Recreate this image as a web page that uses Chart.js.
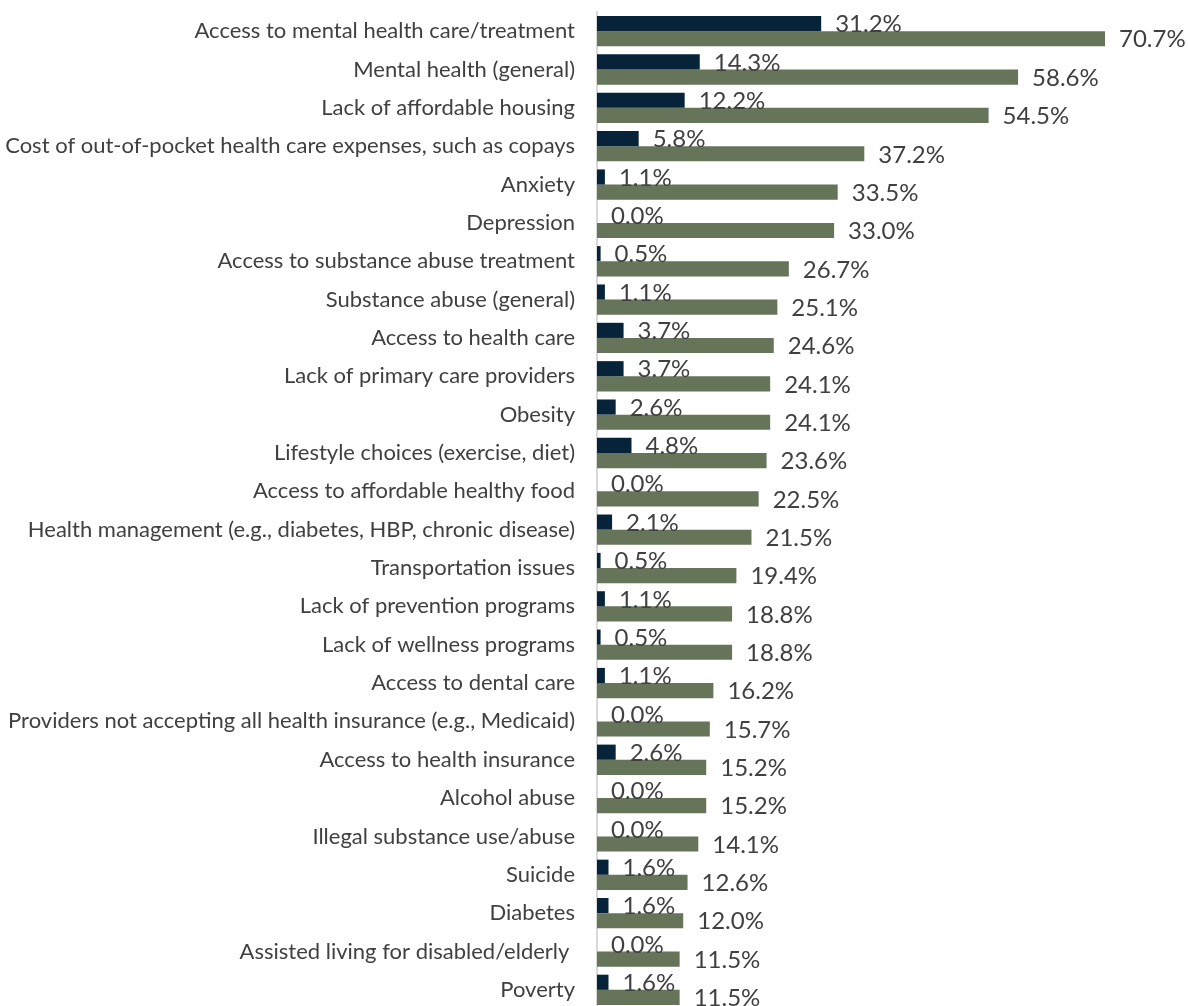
<!DOCTYPE html>
<html>
<head>
<meta charset="utf-8">
<script src="https://cdn.jsdelivr.net/npm/chart.js@4.4.0/dist/chart.umd.min.js"></script>
<style>
  html, body { margin: 0; padding: 0; background: #fff; overflow: hidden; }
  #wrap { width: 1188px; height: 1012px; }
</style>
</head>
<body>
<div id="wrap"><canvas id="mycanvas"></canvas></div>
<script>
// categories, top to bottom
var categories = [
  "Access to mental health care/treatment",
  "Mental health (general)",
  "Lack of affordable housing",
  "Cost of out-of-pocket health care expenses, such as copays",
  "Anxiety",
  "Depression",
  "Access to substance abuse treatment",
  "Substance abuse (general)",
  "Access to health care",
  "Lack of primary care providers",
  "Obesity",
  "Lifestyle choices (exercise, diet)",
  "Access to affordable healthy food",
  "Health management (e.g., diabetes, HBP, chronic disease)",
  "Transportation issues",
  "Lack of prevention programs",
  "Lack of wellness programs",
  "Access to dental care",
  "Providers not accepting all health insurance (e.g., Medicaid)",
  "Access to health insurance",
  "Alcohol abuse",
  "Illegal substance use/abuse",
  "Suicide",
  "Diabetes",
  "Assisted living for disabled/elderly ",
  "Poverty"
];

// dark series
var seriesA = [31.2, 14.3, 12.2, 5.8, 1.1, 0.0, 0.5, 1.1, 3.7, 3.7, 2.6, 4.8, 0.0,
               2.1, 0.5, 1.1, 0.5, 1.1, 0.0, 2.6, 0.0, 0.0, 1.6, 1.6, 0.0, 1.6];
// green series
var seriesB = [70.7, 58.6, 54.5, 37.2, 33.5, 33.0, 26.7, 25.1, 24.6, 24.1, 24.1, 23.6, 22.5,
               21.5, 19.4, 18.8, 18.8, 16.2, 15.7, 15.2, 15.2, 14.1, 12.6, 12.0, 11.5, 11.5];

// draw the value labels next to each bar
var valueLabels = {
  id: 'valueLabels',
  afterDatasetsDraw: function(chart) {
    var ctx = chart.ctx;
    ctx.save();
    ctx.font = '24px Lato';
    ctx.fillStyle = '#404040';
    ctx.textAlign = 'left';
    ctx.textBaseline = 'middle';
    chart.data.datasets.forEach(function(ds, di) {
      var meta = chart.getDatasetMeta(di);
      meta.data.forEach(function(bar, i) {
        ctx.fillText(ds.data[i].toFixed(1) + '%', bar.x + 14, bar.y + 1);
      });
    });
    ctx.restore();
  }
};

var chartdata = {
  labels: categories,
  datasets: [
    { label: 'A', data: seriesA, backgroundColor: '#06233A',
      categoryPercentage: 0.79, barPercentage: 1.0 },
    { label: 'B', data: seriesB, backgroundColor: '#66755A',
      categoryPercentage: 0.79, barPercentage: 1.0 }
  ]
};

new Chart(document.getElementById('mycanvas'), {
  type: 'bar',
  data: chartdata,
  plugins: [valueLabels],
  options: {
    indexAxis: 'y',
    responsive: true,
    maintainAspectRatio: false,
    animation: false,
    layout: { padding: { top: 12, bottom: 3, left: 0, right: 0 } },
    plugins: { legend: { display: false }, tooltip: { enabled: false } },
    scales: {
      x: { display: false, min: 0, max: 82.25 },
      y: {
        grid: { display: false, drawTicks: false },
        border: { display: true, color: '#D9D9D9', width: 2 },
        ticks: { color: '#404040', font: { family: 'Lato', size: 22 }, padding: 22, autoSkip: false },
        afterFit: function(scale) {
          scale.width = 597;
          scale.paddingTop = 0;
          scale.paddingBottom = 0;
        }
      }
    }
  }
});
</script>
</body>
</html>
